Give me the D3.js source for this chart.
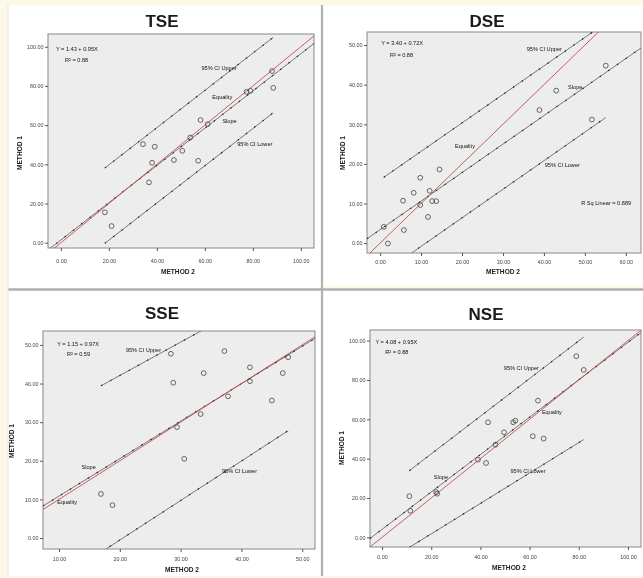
<!DOCTYPE html>
<html>
<head>
<meta charset="utf-8">
<script src="https://cdn.jsdelivr.net/npm/d3@7/dist/d3.min.js"></script>
<style>
  body { margin: 0; background: #fdf9e7; }
  svg { display: block; filter: blur(0.35px); }
  text { font-family: "Liberation Sans", Arial, sans-serif; }
</style>
</head>
<body>
<svg id="chart" width="643" height="578"></svg>
<script>
// values (METHOD 2 on x, METHOD 1 on y)
const tseMethod2 = [18.3, 21.1, 34.2, 39.1, 38.0, 36.7, 47.1, 50.6, 53.9, 58.2, 57.2, 61.2, 77.4, 79.0, 88.0, 88.5];
const tseMethod1 = [15.5, 8.5, 50.3, 49.0, 40.8, 30.8, 42.2, 46.9, 53.7, 62.6, 41.8, 60.5, 77.0, 77.5, 87.6, 79.0];
const tseFit = [1.43, 0.95];
const tseUpper = [[18.3, 38.1], [88.5, 104.8]];
const tseLower = [[18.3, -0.3], [88.5, 66.3]];

const dseMethod2 = [0.9, 1.9, 5.6, 5.8, 8.2, 9.8, 9.8, 11.7, 12.1, 12.7, 13.7, 14.5, 38.9, 43.0, 51.7, 55.1];
const dseMethod1 = [4.1, -0.1, 10.7, 3.3, 12.7, 16.5, 9.6, 6.6, 13.2, 10.6, 10.6, 18.6, 33.6, 38.5, 31.2, 44.8];
const dseFit = [3.40, 0.72];
const dseUpper = [[0.9, 16.6], [55.1, 55.6]];
const dseLower = [[0.9, -7.4], [55.1, 31.7]];

const sseMethod2 = [16.9, 18.8, 28.4, 28.8, 29.4, 30.6, 33.3, 33.8, 37.2, 37.8, 41.4, 41.4, 45.0, 46.8, 47.7];
const sseMethod1 = [11.4, 8.5, 47.7, 40.2, 28.7, 20.5, 32.1, 42.7, 48.4, 36.7, 44.2, 40.6, 35.6, 42.7, 46.8];
const sseFit = [1.15, 0.97];
const sseUpper = [[16.9, 39.4], [47.7, 66.0]];
const sseLower = [[16.9, -3.7], [47.7, 27.8]];

const nseMethod2 = [11.1, 11.5, 22.0, 22.4, 39.0, 42.3, 43.1, 46.1, 49.6, 53.3, 54.2, 61.3, 63.4, 65.7, 79.0, 82.0];
const nseMethod1 = [20.9, 13.5, 23.0, 22.2, 39.5, 37.8, 58.5, 47.1, 53.4, 58.5, 59.3, 51.4, 69.5, 50.2, 92.1, 85.1];
const nseFit = [4.08, 0.95];
const nseUpper = [[11.1, 33.9], [82.0, 101.8]];
const nseLower = [[11.1, -5.1], [82.0, 49.7]];

const titles = ['TSE', 'DSE', 'SSE', 'NSE'];
const xTickSets = [[0, 20, 40, 60, 80, 100], [0, 10, 20, 30, 40, 50, 60], [10, 20, 30, 40, 50], [0, 20, 40, 60, 80, 100]];
const yTickSets = [[0, 20, 40, 60, 80, 100], [0, 10, 20, 30, 40, 50], [0, 10, 20, 30, 40, 50], [0, 20, 40, 60, 80, 100]];

const svg = d3.select('#chart');

// white panels and the grey separators between them
const frames = [[8, 5, 313, 283], [323, 5, 320, 281], [8, 291, 313, 285], [323, 291, 320, 285]];
svg.selectAll('rect.frame')
  .data(frames)
  .enter()
  .append('rect')
  .attr('class', 'frame')
  .attr('x', d => d[0]).attr('y', d => d[1])
  .attr('width', d => d[2]).attr('height', d => d[3])
  .attr('fill', '#fff');
svg.append('line').attr('x1', 322).attr('x2', 322).attr('y1', 5).attr('y2', 576)
  .attr('stroke', '#b0b0b0').attr('stroke-width', 2.2);
svg.append('line').attr('x1', 8).attr('x2', 643).attr('y1', 289.5).attr('y2', 289.5)
  .attr('stroke', '#b0b0b0').attr('stroke-width', 2.5);
svg.append('line').attr('x1', 8).attr('x2', 8).attr('y1', 5).attr('y2', 576)
  .attr('stroke', '#e2e2e2').attr('stroke-width', 1);

const panels = [
  {
    x: tseMethod2, y: tseMethod1, fit: tseFit, upper: tseUpper, lower: tseLower,
    box: { l: 48, t: 34, r: 314, b: 248 }, xDomain: [-5.4, 105.5], yDomain: [-2.7, 106.5],
    title: [162, 27], xTitle: [178, 274], yTitle: [20, 153], tickGap: 14,
    labels: [
      ['Y = 1.43 + 0.95X', -2.1, 97.6], ['R\u00b2 = 0.88', 1.7, 92.2],
      ['95% CI Upper', 58.6, 87.9], ['Equality', 63.1, 73.3], ['Slope', 67.3, 61.1], ['95% CI Lower', 73.5, 49.3]
    ]
  },
  {
    x: dseMethod2, y: dseMethod1, fit: dseFit, upper: dseUpper, lower: dseLower,
    box: { l: 367, t: 32, r: 641, b: 253 }, xDomain: [-3.2, 63.7], yDomain: [-2.5, 53.3],
    title: [487, 27], xTitle: [503, 274], yTitle: [343, 153], tickGap: 10,
    labels: [
      ['Y = 3.40 + 0.72X', 0.25, 49.9], ['R\u00b2 = 0.88', 2.4, 47.1],
      ['95% CI Upper', 35.8, 48.4], ['Slope', 45.9, 38.8], ['Equality', 18.3, 23.9],
      ['95% CI Lower', 40.2, 19.3], ['R Sq Linear = 0.889', 49.1, 9.7]
    ]
  },
  {
    x: sseMethod2, y: sseMethod1, fit: sseFit, upper: sseUpper, lower: sseLower,
    box: { l: 43, t: 331, r: 315, b: 549 }, xDomain: [7.37, 52.1], yDomain: [-2.85, 53.6],
    title: [162, 319], xTitle: [182, 572], yTitle: [12, 441], tickGap: 11,
    labels: [
      ['Y = 1.15 + 0.97X', 9.7, 49.7], ['R\u00b2 = 0.59', 11.3, 47.2],
      ['95% CI Upper', 21.0, 48.1], ['Slope', 13.7, 17.9], ['Equality', 9.7, 8.8], ['95% CI Lower', 36.8, 16.9]
    ]
  },
  {
    x: nseMethod2, y: nseMethod1, fit: nseFit, upper: nseUpper, lower: nseLower,
    box: { l: 370, t: 330, r: 641, b: 547 }, xDomain: [-4.9, 105.3], yDomain: [-4.9, 105.4],
    title: [486, 320], xTitle: [509, 570], yTitle: [342, 448], tickGap: 11,
    labels: [
      ['Y = 4.08 + 0.95X', -2.7, 98.5], ['R\u00b2 = 0.88', 1.3, 93.4],
      ['95% CI Upper', 49.5, 85.1], ['Equality', 65.0, 62.7], ['Slope', 21.0, 29.7], ['95% CI Lower', 52.2, 32.9]
    ]
  }
];

panels.forEach((p, i) => {
  const b = p.box;
  const x = d3.scaleLinear().domain(p.xDomain).range([b.l, b.r]);
  const y = d3.scaleLinear().domain(p.yDomain).range([b.b, b.t]);
  const g = svg.append('g');

  g.append('text')
    .attr('x', p.title[0]).attr('y', p.title[1])
    .attr('text-anchor', 'middle')
    .attr('font-size', 17).attr('font-weight', 'bold').attr('fill', '#1a1a1a')
    .text(titles[i]);

  g.append('rect')
    .attr('x', b.l).attr('y', b.t).attr('width', b.r - b.l).attr('height', b.b - b.t)
    .attr('fill', '#ededed').attr('stroke', '#888').attr('stroke-width', 1);

  g.append('clipPath').attr('id', 'clip' + i)
    .append('rect')
    .attr('x', b.l).attr('y', b.t).attr('width', b.r - b.l).attr('height', b.b - b.t);
  const plot = g.append('g').attr('clip-path', `url(#clip${i})`);

  const line = d3.line().x(d => x(d[0])).y(d => y(d[1]));
  const fitLine = p.xDomain.map(v => [v, p.fit[0] + p.fit[1] * v]);

  // CI and fit lines: grey line with darker marks along it
  [p.upper, p.lower, fitLine].forEach(seg => {
    plot.append('path').attr('d', line(seg))
      .attr('fill', 'none').attr('stroke', '#6a6a6a').attr('stroke-width', 0.9);
    plot.append('path').attr('d', line(seg))
      .attr('fill', 'none').attr('stroke', '#222').attr('stroke-width', 1.2)
      .attr('stroke-dasharray', '1.5,9');
  });

  plot.append('path').attr('d', line(p.xDomain.map(v => [v, v])))
    .attr('fill', 'none').attr('stroke', '#c0504d').attr('stroke-width', 0.9);

  plot.selectAll('circle')
    .data(p.x.map((v, k) => [v, p.y[k]]))
    .enter()
    .append('circle')
    .attr('cx', d => x(d[0])).attr('cy', d => y(d[1]))
    .attr('r', 2.4)
    .attr('fill', 'none').attr('stroke', '#444').attr('stroke-width', 0.8);

  plot.selectAll('text.note')
    .data(p.labels)
    .enter()
    .append('text')
    .attr('class', 'note')
    .attr('x', d => x(d[1])).attr('y', d => y(d[2]))
    .attr('font-size', 5.6).attr('fill', '#111')
    .text(d => d[0]);

  const xAxis = g.append('g').attr('transform', `translate(0,${b.b})`)
    .call(d3.axisBottom(x).tickValues(xTickSets[i]).tickFormat(d3.format('.2f')).tickSize(3).tickPadding(p.tickGap - 6));
  const yAxis = g.append('g').attr('transform', `translate(${b.l},0)`)
    .call(d3.axisLeft(y).tickValues(yTickSets[i]).tickFormat(d3.format('.2f')).tickSize(3).tickPadding(1.5));
  [xAxis, yAxis].forEach(a => {
    a.select('.domain').remove();
    a.selectAll('line').attr('stroke', '#555');
    a.selectAll('text').attr('font-size', 5.4).attr('fill', '#444')
      .attr('font-family', '"Liberation Sans", Arial, sans-serif');
  });

  g.append('text')
    .attr('x', p.xTitle[0]).attr('y', p.xTitle[1])
    .attr('text-anchor', 'middle')
    .attr('font-size', 6.6).attr('font-weight', 'bold').attr('fill', '#222')
    .text('METHOD 2');
  g.append('text')
    .attr('transform', `translate(${p.yTitle[0]},${p.yTitle[1]}) rotate(-90)`)
    .attr('text-anchor', 'middle').attr('dy', '0.35em')
    .attr('font-size', 6.6).attr('font-weight', 'bold').attr('fill', '#222')
    .text('METHOD 1');
});
</script>
</body>
</html>
